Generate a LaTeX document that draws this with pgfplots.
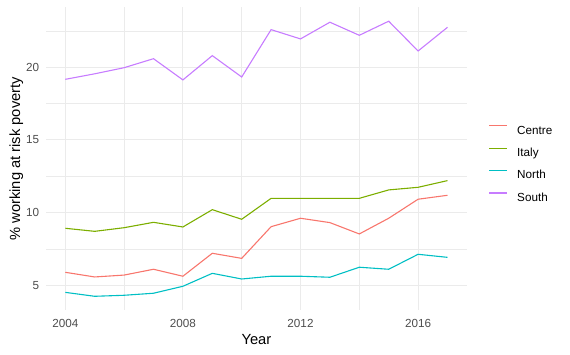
\documentclass[border=0pt]{standalone}
\usepackage{fontspec}
\setmainfont{Liberation Sans}
\usepackage{pgfplots}
\pgfplotsset{compat=1.18}
\definecolor{cCentre}{HTML}{F8766D}
\definecolor{cItaly}{HTML}{7CAE00}
\definecolor{cNorth}{HTML}{00BFC4}
\definecolor{cSouth}{HTML}{C77CFF}
\definecolor{gridc}{HTML}{EBEBEB}
\definecolor{tickc}{HTML}{4D4D4D}
\pgfplotsset{
  mylegimg/.style={legend image code/.code={\draw[##1, line width=1.1pt] plot coordinates {(0pt,4.2pt) (8.75pt,4.2pt) (17.5pt,4.2pt)};}},
}
\begin{document}
\begin{tikzpicture}
\path[use as bounding box] (-46.2pt,-44.9pt) rectangle (523.8pt,310.1pt);
\begin{axis}[
  at={(0pt,0pt)}, anchor=south west,
  scale only axis, width=420.4pt, height=302.7pt,
  xmin=2003.35, xmax=2017.65, ymin=3.29, ymax=24.12,
  xtick={2004,2008,2012,2016}, minor xtick={2006,2010,2014},
  ytick={5,10,15,20}, minor ytick={7.5,12.5,17.5,22.5},
  grid=both,
  major grid style={draw=gridc, line width=1.1pt},
  minor grid style={draw=gridc, line width=0.55pt},
  axis line style={draw=none},
  major tick length=0pt, minor tick length=0pt,
  /pgf/number format/assume math mode=true,
  /pgf/number format/1000 sep={},
  yticklabel style={font=\fontsize{11.7}{14}\selectfont, text=tickc, inner sep=0pt, anchor=east, xshift=-6.9pt},
  xticklabel style={font=\fontsize{11.7}{14}\selectfont, text=tickc, inner sep=0pt, anchor=north, yshift=-9.2pt},
  every axis x label/.style={at={(axis description cs:0.5,0)}, anchor=north, yshift=-23.6pt, inner sep=0pt, font=\fontsize{14.7}{17}\selectfont},
  every axis y label/.style={at={(axis description cs:0,0.5)}, xshift=-36.9pt, rotate=90, anchor=north, inner sep=0pt, font=\fontsize{14.7}{17}\selectfont},
  xlabel={Year},
  ylabel={\% working at risk poverty},
  legend style={at={(rel axis cs:1,0.485)}, anchor=west, xshift=22pt, draw=none, fill=none, inner sep=0pt, outer sep=0pt,
    font=\fontsize{11.7}{14}\selectfont, row sep=13.5pt, column sep=10pt,
    nodes={inner sep=0pt, text height=8.4pt, text depth=0pt}},
  legend cell align=left,
  mylegimg,
]
\addplot[draw=cCentre, line width=1.1pt] coordinates {
(2004,5.89) (2005,5.57) (2006,5.70) (2007,6.10) (2008,5.62) (2009,7.20) (2010,6.85)
(2011,9.03) (2012,9.61) (2013,9.31) (2014,8.53) (2015,9.61) (2016,10.92) (2017,11.19)};
\addlegendentry{Centre}
\addplot[draw=cItaly, line width=1.1pt] coordinates {
(2004,8.92) (2005,8.71) (2006,8.96) (2007,9.33) (2008,9.01) (2009,10.20) (2010,9.54)
(2011,10.98) (2012,10.98) (2013,10.98) (2014,10.98) (2015,11.56) (2016,11.74) (2017,12.20)};
\addlegendentry{Italy}
\addplot[draw=cNorth, line width=1.1pt] coordinates {
(2004,4.51) (2005,4.24) (2006,4.31) (2007,4.45) (2008,4.93) (2009,5.82) (2010,5.43)
(2011,5.62) (2012,5.62) (2013,5.55) (2014,6.24) (2015,6.10) (2016,7.13) (2017,6.92)};
\addlegendentry{North}
\addplot[draw=cSouth, line width=1.1pt] coordinates {
(2004,19.17) (2005,19.55) (2006,19.97) (2007,20.59) (2008,19.13) (2009,20.80) (2010,19.33)
(2011,22.59) (2012,21.95) (2013,23.10) (2014,22.20) (2015,23.17) (2016,21.12) (2017,22.75)};
\addlegendentry{South}
\end{axis}
\end{tikzpicture}
\end{document}
